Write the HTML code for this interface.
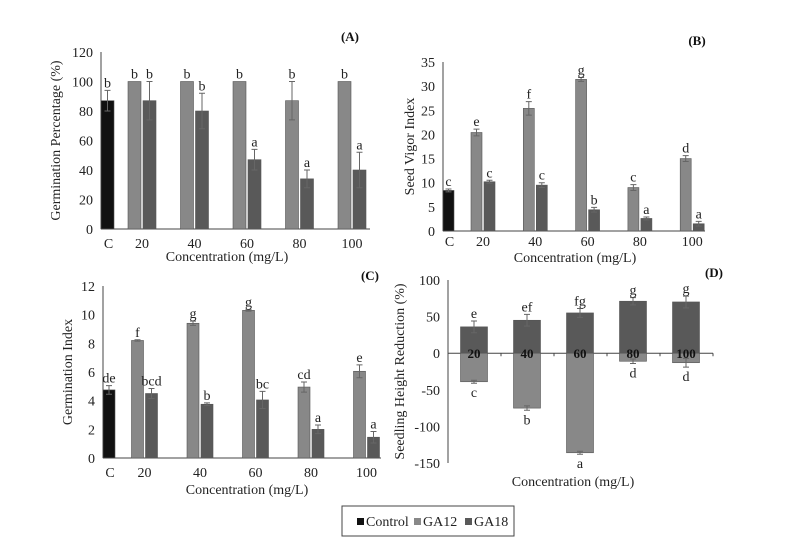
<!DOCTYPE html>
<html><head><meta charset="utf-8"><style>
html,body{margin:0;padding:0;background:#fff;}
svg{display:block;}
svg text{font-family:"Liberation Serif","Times New Roman",serif;}
</style></head><body>
<svg id="fig" width="794" height="542" viewBox="0 0 794 542" xmlns="http://www.w3.org/2000/svg">
<g id="legend">
<rect x="342" y="506" width="172" height="30" fill="#fff" stroke="#444" stroke-width="1"/>
<rect x="357" y="518" width="7" height="7" fill="#111"/>
<text x="366" y="526" font-size="14" fill="#222" font-family="Liberation Serif, serif">Control</text>
<rect x="414" y="518" width="7" height="7" fill="#888"/>
<text x="423" y="526" font-size="14" fill="#222" font-family="Liberation Serif, serif">GA12</text>
<rect x="465" y="518" width="7" height="7" fill="#595959"/>
<text x="474" y="526" font-size="14" fill="#222" font-family="Liberation Serif, serif">GA18</text>
</g>
</svg>
<script>
// Panel A
const catsA = ["20","40","60","80","100"];
const ctrlA = [87]; const ctrlErrA = [7]; const ctrlLetA = ["b"];
const ga12A = [100,100,100,87,100]; const ga12ErrA = [0,0,0,13,0]; const ga12LetA = ["b","b","b","b","b"];
const ga18A = [87,80,47,34,40]; const ga18ErrA = [13,12,7,6,12]; const ga18LetA = ["b","b","a","a","a"];
const ticksA = [0,20,40,60,80,100,120];
// Panel B
const ctrlB = [8.4]; const ctrlErrB = [0.3]; const ctrlLetB = ["c"];
const ga12B = [20.4,25.4,31.4,9,15]; const ga12ErrB = [0.7,1.4,0.4,0.6,0.6]; const ga12LetB = ["e","f","g","c","d"];
const ga18B = [10.2,9.5,4.4,2.6,1.5]; const ga18ErrB = [0.3,0.5,0.5,0.3,0.5]; const ga18LetB = ["c","c","b","a","a"];
const ticksB = [0,5,10,15,20,25,30,35];
// Panel C
const ctrlC = [4.75]; const ctrlErrC = [0.3]; const ctrlLetC = ["de"];
const ga12C = [8.2,9.4,10.3,4.95,6.05]; const ga12ErrC = [0.05,0.15,0.05,0.35,0.45]; const ga12LetC = ["f","g","g","cd","e"];
const ga18C = [4.5,3.75,4.05,2,1.45]; const ga18ErrC = [0.35,0.1,0.6,0.3,0.4]; const ga18LetC = ["bcd","b","bc","a","a"];
const ticksC = [0,2,4,6,8,10,12];
// Panel D
const ga18D = [36,45,55,71,70]; const ga18ErrD = [8,8,6,5,8]; const ga18LetD = ["e","ef","fg","g","g"];
const ga12D = [-39,-75,-136,-11,-13]; const ga12ErrD = [2,3,2,3,6]; const ga12LetD = ["c","b","a","d","d"];
const ticksD = [-150,-100,-50,0,50,100];

const svg = document.getElementById('fig');
const NS = "http://www.w3.org/2000/svg";
function mk(tag, attrs, parent){ const e=document.createElementNS(NS,tag); for(const k in attrs) e.setAttribute(k,attrs[k]); (parent||svg).appendChild(e); return e; }
function txt(x,y,s,size,anchor,parent,extra){ const t=mk('text',Object.assign({x:x,y:y,'font-size':size,'text-anchor':anchor||'middle',fill:'#222','font-family':'Liberation Serif, serif'},extra||{}),parent); t.textContent=s; return t; }

function panel(cfg){
  const g = mk('g',{});
  
  
  const y = v => cfg.y0 - (v - cfg.vmin) * (cfg.y0 - cfg.y1) / (cfg.vmax - cfg.vmin);
  const zeroY = y(0);
  cfg.ticks.forEach(t=>{
    const tl = txt(cfg.ax-8, y(t)+5, String(t), 14, 'end', g);
    
    
  });
  const ya = mk('line',{x1:cfg.ax,x2:cfg.ax,y1:y(cfg.vmax),y2:y(cfg.vmin),stroke:'#444','stroke-width':1},g);
  
  
  const yt = txt(0,0,cfg.ylabel,14,'middle',g,{transform:`translate(${cfg.ylx},${(y(cfg.vmax)+y(cfg.vmin))/2}) rotate(-90)`});
  
  
  const cx = i => cfg.c0 + i*cfg.W;
  function bar(x, w, v, err, let, color, nm, labelBelow){
    const top = Math.min(y(v), zeroY), h = Math.abs(y(v)-zeroY);
    const r = mk('rect',{x:x,y:top,width:w,height:h,fill:color,stroke:'#555','stroke-width':0.6},g);
    
    
    const xm = x + w/2;
    if(err>0){
      const e1 = v>=0 ? y(v+err) : y(v-err);
      const e0 = v>=0? y(v-err): y(v+err);
      const el = mk('path',{d:`M${xm},${e0}L${xm},${e1}M${xm-3},${e1}L${xm+3},${e1}M${xm-3},${e0}L${xm+3},${e0}`,stroke:'#666','stroke-width':1,fill:'none'},g);
      
      
    }
    const ly = labelBelow ? y(v-err)+14 : y(v+err)-3;
    const lt = txt(xm, ly, let, 14, 'middle', g);
    
    
  }
  if(cfg.ctrl){
    bar(cfg.ax, cfg.bw, cfg.ctrl[0], cfg.ctrlErr[0], cfg.ctrlLet[0], '#111', 'bar-control', false);
    const cl = txt(cfg.ax+cfg.bw/2+1, cfg.xly, 'C', 14, 'middle', g);
    
    
  }
  const xa = mk('line',{x1:cfg.ax,x2:cfg.xend,y1:zeroY,y2:zeroY,stroke:'#444','stroke-width':1},g);
  
  
  catsA.forEach((c,i)=>{
    if(cfg.overlap){
      const w=cfg.bw;
      bar(cx(i)-w/2, w, cfg.ga18[i], cfg.ga18Err[i], cfg.ga18Let[i], '#595959', 'bar-ga18-'+c, false);
      bar(cx(i)-w/2, w, cfg.ga12[i], cfg.ga12Err[i], cfg.ga12Let[i], '#888', 'bar-ga12-'+c, true);
      const tk = mk('line',{x1:cfg.ax+(i+1)*cfg.W,x2:cfg.ax+(i+1)*cfg.W,y1:zeroY,y2:zeroY+3,stroke:'#444'},g);
      
      
      const cl = txt(cx(i), zeroY+5, c, 13, 'middle', g, {'font-weight':'bold',fill:'#111'});
      
      
    } else {
      bar(cx(i)-cfg.bw-1, cfg.bw, cfg.ga12[i], cfg.ga12Err[i], cfg.ga12Let[i], '#888', 'bar-ga12-'+c, false);
      bar(cx(i)+1, cfg.bw, cfg.ga18[i], cfg.ga18Err[i], cfg.ga18Let[i], '#595959', 'bar-ga18-'+c, false);
      const cl = txt(cx(i), cfg.xly, c, 14, 'middle', g);
      
      
    }
  });
  const xt = txt(cfg.xtx, cfg.xty, 'Concentration (mg/L)', 14, 'middle', g);
  
  
  const pt = txt(cfg.ptx, cfg.pty, cfg.title, 13, 'middle', g, {'font-weight':'bold',fill:'#111'});
  
  
}

panel({name:'panel-a-germination-percentage',ax:101,y0:229,y1:52,vmin:0,vmax:120,ticks:ticksA,ylabel:'Germination Percentage (%)',ylx:60,
  c0:142,W:52.5,bw:13,xend:370,xly:248,xtx:227,xty:261,ptx:350,pty:41,title:'(A)',
  ctrl:ctrlA,ctrlErr:ctrlErrA,ctrlLet:ctrlLetA,ga12:ga12A,ga12Err:ga12ErrA,ga12Let:ga12LetA,ga18:ga18A,ga18Err:ga18ErrA,ga18Let:ga18LetA});
panel({name:'panel-b-seed-vigor-index',ax:443,y0:231,y1:62,vmin:0,vmax:35,ticks:ticksB,ylabel:'Seed Vigor Index',ylx:414,
  c0:483,W:52.3,bw:11,xend:705,xly:246,xtx:575,xty:262,ptx:697,pty:45,title:'(B)',
  ctrl:ctrlB,ctrlErr:ctrlErrB,ctrlLet:ctrlLetB,ga12:ga12B,ga12Err:ga12ErrB,ga12Let:ga12LetB,ga18:ga18B,ga18Err:ga18ErrB,ga18Let:ga18LetB});
panel({name:'panel-c-germination-index',ax:103,y0:458,y1:286,vmin:0,vmax:12,ticks:ticksC,ylabel:'Germination Index',ylx:72,
  c0:144.5,W:55.5,bw:12,xend:381,xly:477,xtx:247,xty:494,ptx:370,pty:280,title:'(C)',
  ctrl:ctrlC,ctrlErr:ctrlErrC,ctrlLet:ctrlLetC,ga12:ga12C,ga12Err:ga12ErrC,ga12Let:ga12LetC,ga18:ga18C,ga18Err:ga18ErrC,ga18Let:ga18LetC});
panel({name:'panel-d-seedling-height-reduction',ax:448,y0:463,y1:280,vmin:-150,vmax:100,ticks:ticksD,ylabel:'Seedling Height Reduction (%)',ylx:404,
  c0:474,W:53,bw:27,xend:713,xly:0,xtx:573,xty:486,ptx:714,pty:277,title:'(D)',overlap:true,
  ga12:ga12D,ga12Err:ga12ErrD,ga12Let:ga12LetD,ga18:ga18D,ga18Err:ga18ErrD,ga18Let:ga18LetD});
svg.appendChild(document.getElementById('legend'));
</script>
</body></html>
